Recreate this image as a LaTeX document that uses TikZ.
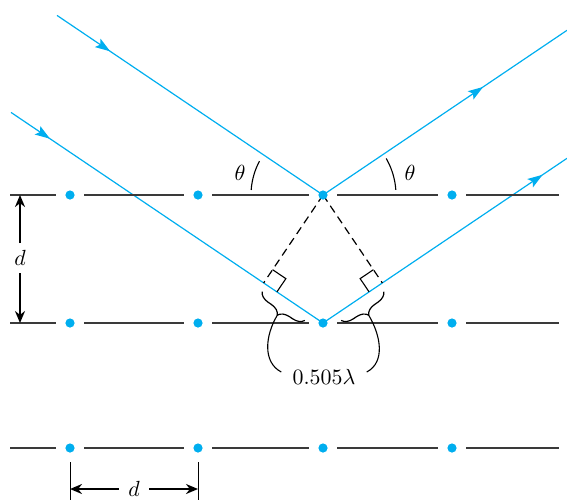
\documentclass[tikz,border=0pt]{standalone}
\usepackage{xcolor}
\usepackage{tikz}
\usetikzlibrary{arrows.meta,calc,decorations.pathreplacing,
                 decorations.markings,backgrounds}
\definecolor{raycyan}{HTML}{00AEEF}
\definecolor{planegray}{HTML}{3A3A3A}
\tikzset{
  atom/.style={
    circle, fill=raycyan, draw=none,
    inner sep=0pt, minimum size=4.6pt, outer sep=4.7pt
  },
  plane/.style={
    draw=planegray, line width=0.65pt
  },
  ray/.style={
    draw=raycyan, line width=0.6pt, postaction={decorate},
    decoration={markings,
      mark=at position #1 with {\arrow{Stealth[length=7.5pt,width=5pt,inset=1.5pt]}}}
  },
  ray/.default=0.5,
  dropline/.style={
    draw=black, line width=0.6pt, dash pattern=on 4pt off 2.5pt
  },
  squaremark/.style={
    draw=black, line width=0.55pt
  },
  brace/.style={
    decorate, decoration={brace, amplitude=5.5pt, raise=4pt},
    line width=0.6pt, color=black
  },
  leader/.style={
    draw=black, line width=0.55pt
  },
  dimarrow/.style={
    -{Stealth[length=6pt,width=5pt]}, line width=1pt, color=black
  },
  extline/.style={
    draw=black, line width=0.5pt
  },
  labelnode/.style={
    font=\fontsize{10.5}{12}\selectfont, inner sep=3.5pt
  },
}

\begin{document}
\begin{tikzpicture}[x=0.5pt, y=-0.5pt]
  \useasboundingbox (0,0) rectangle (567,500);
  \coordinate (base) at (0,500);

  \foreach \pl/\py in {a/195,b/323,c/448} {
    \foreach \i/\px in {1/70,2/198,3/323,4/452} {
      \node[atom] (\pl\i) at (\px,\py) {};
    }
    \coordinate (\pl0) at (10,\py);
    \coordinate (\pl5) at (559,\py);
    \draw[plane] (\pl0) -- (\pl1) (\pl1) -- (\pl2) (\pl2) -- (\pl3)
      (\pl3) -- (\pl4) (\pl4) -- (\pl5);
  }

  \coordinate (s1) at (57,15.4);
  \coordinate (o1) at (567,30.3);
  \coordinate (s2) at (11,112.4);
  \coordinate (o2) at (567,158.3);
  \coordinate (fL) at ($(b3.center)!(a3.center)!(s2)$);
  \coordinate (fR) at ($(b3.center)!(a3.center)!(o2)$);

  \begin{scope}[on background layer]
    \draw[ray=0.2] (s1) -- (a3.center);
    \draw[ray=0.656] (a3.center) -- (o1);
    \draw[ray=0.125] (s2) -- (b3.center);
    \draw[ray=0.9] (b3.center) -- (o2);
    \draw[dropline] (a3.center) -- (fL);
    \draw[dropline] (a3.center) -- (fR);
  \end{scope}

  \coordinate (mLa) at ($(fL)!8pt!(a3.center)$);
  \coordinate (mLb) at ($(fL)!8pt!(b3.center)$);
  \draw[squaremark] (mLa) -- ($(mLa)+(mLb)-(fL)$) -- (mLb);
  \coordinate (mRa) at ($(fR)!8pt!(a3.center)$);
  \coordinate (mRb) at ($(fR)!8pt!(b3.center)$);
  \draw[squaremark] (mRa) -- ($(mRa)+(mRb)-(fR)$) -- (mRb);

  \coordinate (bLs) at ($(fL)!0.77!(b3.center)$);
  \coordinate (bLe) at ($(fL)!0.05!(b3.center)$);
  \coordinate (bRs) at ($(fR)!0.05!(b3.center)$);
  \coordinate (bRe) at ($(fR)!0.77!(b3.center)$);
  \draw[brace] (bLs) -- (bLe);
  \draw[brace] (bRs) -- (bRe);
  \coordinate (mL) at ($(bLs)!0.5!(bLe)$);
  \coordinate (mR) at ($(bRs)!0.5!(bRe)$);
  \coordinate (tL) at ($(mL)!9.5pt!90:(bLe)$);
  \coordinate (tR) at ($(mR)!9.5pt!90:(bRe)$);

  \node[labelnode] (lam) at (324,377) {$0.505\lambda$};
  \draw[leader] (tL) .. controls +(-12,20) and +(-19,-10) .. ([xshift=-2pt,yshift=2.5pt]lam.west);
  \draw[leader] (tR) .. controls +(12,20) and +(19,-10) .. ([xshift=2pt,yshift=2.5pt]lam.east);

  \draw[leader] ($(a3.center)+(184:72)$) arc[start angle=184, end angle=208, radius=72];
  \draw[leader] ($(a3.center)+(356:73)$) arc[start angle=356, end angle=330, radius=73];
  \node[labelnode] (thL) at (240,173) {$\theta$};
  \node[labelnode] (thR) at (410,173) {$\theta$};

  \node[labelnode] (dv) at (20,258) {$d$};
  \draw[dimarrow] (dv) -- (dv |- a1);
  \draw[dimarrow] (dv) -- (dv |- b1);

  \node[labelnode, inner sep=4.5pt] (dh) at (134,489) {$d$};
  \draw[extline] (c1.south) -- (c1 |- base);
  \draw[extline] (c2.south) -- (c2 |- base);
  \draw[dimarrow] (dh) -- (dh -| c1);
  \draw[dimarrow] (dh) -- (dh -| c2);
\end{tikzpicture}
\end{document}
